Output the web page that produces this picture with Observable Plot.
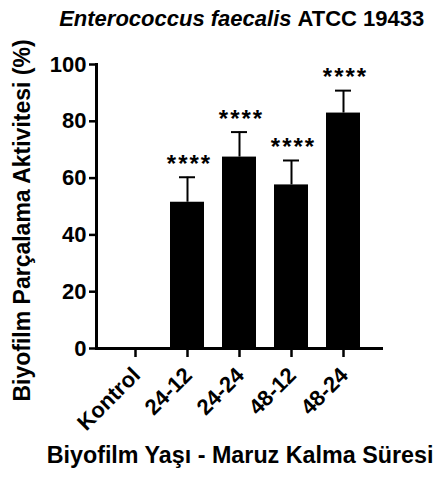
<!DOCTYPE html>
<html><head><meta charset="utf-8">
<script src="https://cdn.jsdelivr.net/npm/d3@7"></script>
<script src="https://cdn.jsdelivr.net/npm/@observablehq/plot@0.6"></script>
<style>body{margin:0;background:#fff}</style>
</head><body><div id="chart"></div>
<script>
const categories = ["Kontrol", "24-12", "24-24", "48-12", "48-24"];
const means = [0, 51.5, 67.4, 57.6, 82.9];
const errors = [0, 8.8, 8.8, 8.6, 7.9];
const significance = ["", "****", "****", "****", "****"];
const yTicks = [0, 20, 40, 60, 80, 100];
const titleItalic = "Enterococcus faecalis";
const titleRest = "ATCC 19433";
const yLabel = "Biyofilm Parçalama Aktivitesi (%)";
const xLabel = "Biyofilm Yaşı - Maruz Kalma Süresi";

const rows = categories.map((c, i) => ({cat: c, mean: means[i], err: errors[i], top: means[i] + errors[i], sig: significance[i]}));
const withErr = rows.filter(d => d.err > 0);

const chart = Plot.plot({
  width: 435, height: 479,
  marginLeft: 96, marginRight: 52, marginTop: 64, marginBottom: 131,
  style: {fontFamily: "'Liberation Sans', Arial, sans-serif", fontWeight: "bold", fontSize: "22px", background: "#fff", color: "#000"},
  x: {domain: categories, paddingInner: 0.34, paddingOuter: 0.38, axis: null},
  y: {domain: [0, 100], axis: null},
  marks: [
    Plot.barY(rows, {x: "cat", y: "mean", fill: "#000"}),
    Plot.ruleX(withErr, {x: "cat", y1: "mean", y2: "top", stroke: "#000", strokeWidth: 2}),
    Plot.tickY(withErr, {x: "cat", y: "top", stroke: "#000", strokeWidth: 2, inset: 9}),
    Plot.text(withErr, {x: "cat", y: "top", text: "sig", dx: 2, dy: -13, fontSize: 24}),
    Plot.axisY({ticks: yTicks, tickSize: 7, tickPadding: 3, strokeWidth: 2.5, fontSize: 22, label: null}),
    Plot.axisX({tickSize: 9, strokeWidth: 2.5, tickFormat: () => "", label: null}),
    Plot.text(categories, {x: d => d, text: d => d, frameAnchor: "bottom", textAnchor: "end", lineAnchor: "middle", rotate: -45, dx: 1, dy: 23, fontSize: 22}),
    Plot.ruleY([0], {strokeWidth: 3}),
    Plot.frame({anchor: "left", strokeWidth: 3}),
    Plot.text([yLabel], {text: d => d, frameAnchor: "left", textAnchor: "middle", lineAnchor: "middle", rotate: -90, dx: -74, dy: 14, fontSize: 23}),
    Plot.text([xLabel], {text: d => d, frameAnchor: "bottom", lineAnchor: "middle", dy: 107, fontSize: 23.3}),
    Plot.text([titleItalic], {text: d => d, frameAnchor: "top", textAnchor: "end", lineAnchor: "middle", dx: 51.5, dy: -46, fontSize: 22, fontStyle: "italic"}),
    Plot.text([titleRest], {text: d => d, frameAnchor: "top", textAnchor: "start", lineAnchor: "middle", dx: 57.5, dy: -46, fontSize: 22})
  ]
});
d3.select(chart).selectAll("text").filter(function() { return this.textContent === "****"; }).attr("letter-spacing", "2px");
document.getElementById("chart").appendChild(chart);
</script>
</body></html>
